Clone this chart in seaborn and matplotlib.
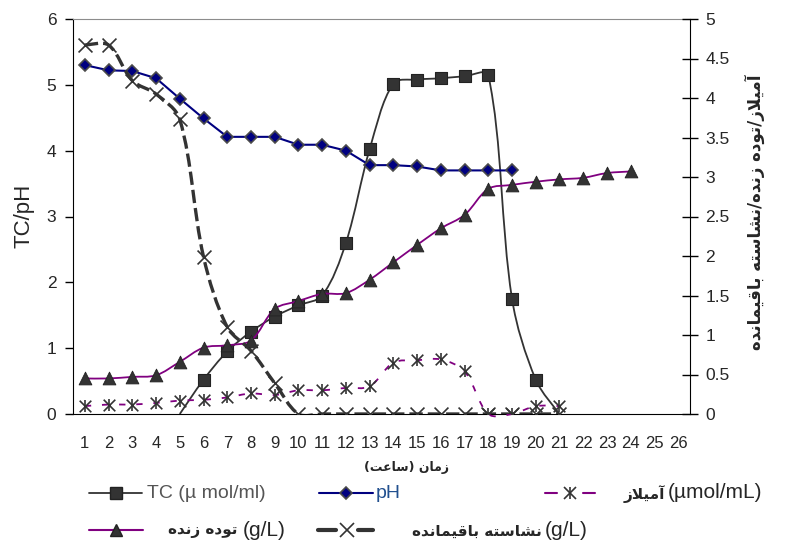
import numpy as np
import matplotlib
matplotlib.use("Agg")
import matplotlib.pyplot as plt
from matplotlib.path import Path
from matplotlib.patches import PathPatch
from matplotlib.ticker import FixedLocator, NullFormatter, FuncFormatter
import seaborn as sns

# === Data ===
hours = list(range(1, 27))

tc_hours = list(range(5, 22))
tc = [0.0, 0.52, 0.95, 1.25, 1.48, 1.65, 1.80, 2.60, 4.02, 5.02, 5.08, 5.10, 5.13, 5.15, 1.75, 0.52, 0.0]

ph_hours = list(range(1, 20))
ph = [5.30, 5.22, 5.21, 5.10, 4.79, 4.49, 4.21, 4.21, 4.21, 4.09, 4.09, 4.00, 3.78, 3.78, 3.76, 3.70, 3.70, 3.70, 3.70]

amy_hours = list(range(1, 22))
amylase = [0.10, 0.12, 0.12, 0.14, 0.17, 0.18, 0.21, 0.26, 0.24, 0.30, 0.30, 0.33, 0.35,
           0.65, 0.68, 0.69, 0.54, 0.0, 0.0, 0.10, 0.10]

bio_hours = list(range(1, 25))
biomass = [0.45, 0.45, 0.47, 0.49, 0.66, 0.84, 0.87, 0.93, 1.33, 1.43, 1.52, 1.53, 1.70, 1.92,
           2.14, 2.35, 2.52, 2.85, 2.90, 2.94, 2.97, 2.99, 3.05, 3.07]

starch_hours = list(range(1, 22))
starch = [4.67, 4.67, 4.22, 4.05, 3.73, 1.99, 1.10, 0.80, 0.39, 0.0, 0.0, 0.0, 0.0, 0.0,
          0.0, 0.0, 0.0, 0.0, 0.0, 0.0, 0.0]

# === Colours ===
DARK = "#333333"
NAVY = "#000080"
PURPLE = "#800080"

# === Persian shaping (matplotlib has no bidi / joining) ===
FORMS = {
    "\u0627": ("\uFE8D", "\uFE8E"),
    "\u0622": ("\uFE81", "\uFE82"),
    "\u0628": ("\uFE8F", "\uFE90", "\uFE91", "\uFE92"),
    "\u062A": ("\uFE95", "\uFE96", "\uFE97", "\uFE98"),
    "\u062F": ("\uFEA9", "\uFEAA"),
    "\u0632": ("\uFEAF", "\uFEB0"),
    "\u0633": ("\uFEB1", "\uFEB2", "\uFEB3", "\uFEB4"),
    "\u0634": ("\uFEB5", "\uFEB6", "\uFEB7", "\uFEB8"),
    "\u0639": ("\uFEC9", "\uFECA", "\uFECB", "\uFECC"),
    "\u0642": ("\uFED5", "\uFED6", "\uFED7", "\uFED8"),
    "\u0644": ("\uFEDD", "\uFEDE", "\uFEDF", "\uFEE0"),
    "\u0645": ("\uFEE1", "\uFEE2", "\uFEE3", "\uFEE4"),
    "\u0646": ("\uFEE5", "\uFEE6", "\uFEE7", "\uFEE8"),
    "\u0647": ("\uFEE9", "\uFEEA", "\uFEEB", "\uFEEC"),
    "\u0648": ("\uFEED", "\uFEEE"),
    "\u06CC": ("\uFBFC", "\uFBFD", "\uFBFE", "\uFBFF"),
}
LAM_ALEF = {"\u0627": ("\uFEFB", "\uFEFC"), "\u0622": ("\uFEF5", "\uFEF6")}
MIRROR = {"(": ")", ")": "("}


def fa(text):
    chars = list(text.replace("\u064A", "\u06CC"))
    n = len(chars)

    def dual(c):
        return c in FORMS and len(FORMS[c]) == 4

    out = []
    i = 0
    while i < n:
        c = chars[i]
        if c not in FORMS:
            out.append(MIRROR.get(c, c))
            i += 1
            continue
        joins_prev = i > 0 and dual(chars[i - 1])
        if c == "\u0644" and i + 1 < n and chars[i + 1] in LAM_ALEF:
            iso, fin = LAM_ALEF[chars[i + 1]]
            out.append(fin if joins_prev else iso)
            i += 2
            continue
        joins_next = dual(c) and i + 1 < n and chars[i + 1] in FORMS
        f = FORMS[c]
        if joins_prev and joins_next:
            out.append(f[3])
        elif joins_prev:
            out.append(f[1])
        elif joins_next:
            out.append(f[2])
        else:
            out.append(f[0])
        i += 1
    return "".join(reversed(out))


# === Excel-like smoothed line ===
def smooth_path(ax, xs, ys):
    pts = ax.transData.transform(np.column_stack([xs, ys]).astype(float))
    n = len(pts)
    d = np.hypot(*np.diff(pts, axis=0).T)
    verts, codes = [pts[0]], [Path.MOVETO]
    for i in range(n - 1):
        p0, p1, p2, p3 = pts[max(i - 1, 0)], pts[i], pts[i + 1], pts[min(i + 2, n - 1)]
        d01 = d[i - 1] if i > 0 else d[i]
        d12 = d[i]
        d23 = d[i + 1] if i + 2 < n else d[i]
        c1 = p1 + (p2 - p0) * d12 / (d01 + d12) / 3
        c2 = p2 - (p3 - p1) * d12 / (d12 + d23) / 3
        verts += [c1, c2, p2]
        codes += [Path.CURVE4] * 3
    verts = ax.transData.inverted().transform(np.array(verts))
    return Path(verts, codes)


sns.set_style("white")
plt.rcParams["font.family"] = ["Liberation Sans", "DejaVu Sans"]

W, H = 787, 547
fig = plt.figure(figsize=(W / 100, H / 100), dpi=100)
ax = fig.add_axes([73 / W, 1 - 414 / H, 617 / W, 395 / H])
ax2 = ax.twinx()

ax.set_xlim(0.5, 26.5)
ax.set_ylim(0, 6)
ax2.set_ylim(0, 5)

# === Primary axis: TC and pH ===
tc_patch = PathPatch(smooth_path(ax, tc_hours, tc), fill=False, edgecolor=DARK, lw=1.3, zorder=2)
ax.add_patch(tc_patch)
tc_mark_x = [h for h, v in zip(tc_hours, tc) if v > 0]
tc_mark_y = [v for v in tc if v > 0]
sns.scatterplot(x=tc_mark_x, y=tc_mark_y, ax=ax, marker="s", s=64, color=DARK,
                edgecolor="#222222", linewidth=0.8, zorder=3, legend=False)

sns.lineplot(x=ph_hours, y=ph, ax=ax, color=NAVY, lw=1.5, marker="D", markersize=6.5,
             markerfacecolor=NAVY, markeredgecolor="#4a4a4a", markeredgewidth=1.2, zorder=3)

# === Secondary axis: amylase, biomass, starch ===
amy_patch = PathPatch(smooth_path(ax2, amy_hours, amylase), fill=False, edgecolor=PURPLE,
                      lw=1.3, linestyle=(0, (3.5, 6)), zorder=2, clip_on=False)
ax2.add_patch(amy_patch)
sns.scatterplot(x=amy_hours, y=amylase, ax=ax2, marker="x", s=70, color=DARK, linewidth=1.2,
                zorder=4, legend=False)
sns.scatterplot(x=amy_hours, y=amylase, ax=ax2, marker="|", s=80, color=DARK, linewidth=1.2,
                zorder=4, legend=False)

bio_patch = PathPatch(smooth_path(ax2, bio_hours, biomass), fill=False, edgecolor=PURPLE,
                      lw=1.3, zorder=2)
ax2.add_patch(bio_patch)
sns.scatterplot(x=bio_hours, y=biomass, ax=ax2, marker="^", s=85, color=DARK,
                edgecolor="#222222", linewidth=0.6, zorder=4, legend=False)

starch_patch = PathPatch(smooth_path(ax2, starch_hours, starch), fill=False, edgecolor=DARK,
                         lw=2.4, linestyle=(0, (4, 1.5)), zorder=3)
ax2.add_patch(starch_patch)
sns.scatterplot(x=starch_hours, y=starch, ax=ax2, marker="x", s=100, color=DARK, linewidth=1.2,
                zorder=5, legend=False)

# === Axes styling ===
ax.set_xlim(0.5, 26.5)
ax.set_ylim(0, 6)
ax2.set_ylim(0, 5)
ax.set_xlabel("")
ax.set_ylabel("")
ax2.set_ylabel("")

ax.xaxis.set_major_locator(FixedLocator([h + 0.5 for h in hours[:-1]]))
ax.xaxis.set_major_formatter(NullFormatter())
ax.xaxis.set_minor_locator(FixedLocator(hours))
ax.xaxis.set_minor_formatter(FuncFormatter(lambda v, p: f"{int(round(v))}"))
ax.tick_params(axis="x", which="major", direction="inout", length=10, width=1, color="black")
ax.tick_params(axis="x", which="minor", length=0, pad=16, labelsize=12)
for lab in ax.xaxis.get_minorticklabels():
    lab.set_family(["Liberation Sans Narrow", "Liberation Sans"])

ax.set_yticks(range(0, 7))
ax.tick_params(axis="y", direction="out", length=6, width=1, pad=6, labelsize=12.5,
               left=True, color="black")
ax2.set_yticks(np.arange(0, 5.01, 0.5))
ax2.yaxis.set_major_formatter(FuncFormatter(lambda v, p: f"{v:g}"))
ax2.tick_params(axis="y", direction="inout", length=12, width=1, pad=5, labelsize=12.5,
                right=True, color="black")

for a in (ax, ax2):
    for s in a.spines.values():
        s.set_visible(False)
ax.spines["left"].set_visible(True)
ax.spines["left"].set_color("black")
ax.spines["bottom"].set_visible(True)
ax.spines["bottom"].set_color("black")
ax.spines["top"].set_visible(True)
ax.spines["top"].set_color("#8c8c8c")
ax2.spines["right"].set_visible(True)
ax2.spines["right"].set_color("black")

# === Axis titles ===
fig.text(24 / W, 1 - 216 / H, "TC/pH", rotation=90, ha="center", va="center", fontsize=16)
fig.text(755 / W, 1 - 212 / H, fa("آمیلاز/توده زنده/نشاسته باقیمانده"), rotation=90,
         ha="center", va="center", fontsize=12, fontweight="bold", family="DejaVu Sans")
fig.text(406 / W, 1 - 467 / H, fa("زمان (ساعت)"), ha="center", va="center", fontsize=9,
         fontweight="bold", family="DejaVu Sans")

# === Legend (drawn in pixel space below the plot) ===
leg = fig.add_axes([0, 0, 1, 1])
leg.set_xlim(0, W)
leg.set_ylim(H, 0)
leg.axis("off")

r1, r2 = 493, 530
leg.plot([89, 142], [r1, r1], color=DARK, lw=1.3)
leg.plot([116], [r1], marker="s", ms=8, color=DARK, mec="#222222")
leg.text(147, r1, "TC (\u00b5 mol/ml)", va="center", ha="left", fontsize=14, color="#555555")

leg.plot([319, 373], [r1, r1], color=NAVY, lw=1.5)
leg.plot([346], [r1], marker="D", ms=6.5, color=NAVY, mec="#4a4a4a", mew=1.2)
leg.text(376, r1, "pH", va="center", ha="left", fontsize=14, color="#22508f")

leg.plot([545, 557], [r1, r1], color=PURPLE, lw=1.5)
leg.plot([583, 595], [r1, r1], color=PURPLE, lw=1.5)
leg.plot([570], [r1], marker="x", ms=8.5, color=DARK, mew=1.2)
leg.plot([570], [r1], marker="|", ms=9, color=DARK, mew=1.2)
leg.text(665, r1 + 1, fa("آمیلاز"), va="center", ha="right", fontsize=11, fontweight="bold",
         family="DejaVu Sans")
leg.text(668, r1, "(\u00b5mol/mL)", va="center", ha="left", fontsize=15)

leg.plot([89, 143], [r2, r2], color=PURPLE, lw=1.5)
leg.plot([116], [r2], marker="^", ms=9, color=DARK, mec="#222222")
leg.text(237, r2 + 1, fa("توده زنده"), va="center", ha="right", fontsize=11, fontweight="bold",
         family="DejaVu Sans")
leg.text(243, r2, "(g/L)", va="center", ha="left", fontsize=15)

leg.plot([318, 336], [r2, r2], color=DARK, lw=3)
leg.plot([358, 373], [r2, r2], color=DARK, lw=3)
leg.plot([347], [r2], marker="x", ms=9.5, color=DARK, mew=1.2)
leg.text(542, r2 + 1, fa("نشاسته باقیمانده"), va="center", ha="right", fontsize=11,
         fontweight="bold", family="DejaVu Sans")
leg.text(545, r2, "(g/L)", va="center", ha="left", fontsize=15)

fig.savefig("out.png", dpi=100)
